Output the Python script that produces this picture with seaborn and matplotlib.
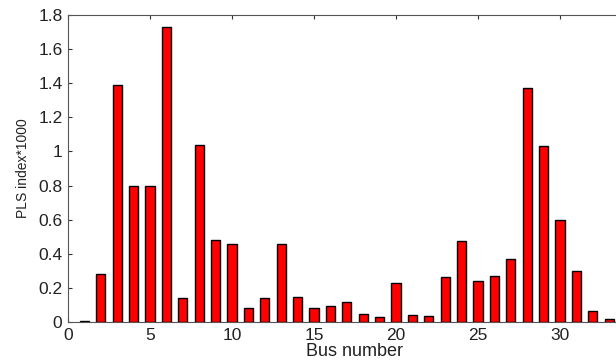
import matplotlib
matplotlib.use("Agg")
import matplotlib.pyplot as plt
import seaborn as sns
import pandas as pd

bus = list(range(1, 34))
pls = [0.003, 0.28, 1.39, 0.80, 0.80, 1.73, 0.14, 1.04, 0.48, 0.46,
       0.08, 0.14, 0.46, 0.145, 0.085, 0.095, 0.12, 0.045, 0.03, 0.23,
       0.04, 0.035, 0.265, 0.475, 0.24, 0.27, 0.37, 1.37, 1.03, 0.60,
       0.30, 0.065, 0.02]
xticks = [0, 5, 10, 15, 20, 25, 30]
yticks = [0, 0.2, 0.4, 0.6, 0.8, 1, 1.2, 1.4, 1.6, 1.8]
ytick_labels = ["0", "0.2", "0.4", "0.6", "0.8", "1", "1.2", "1.4", "1.6", "1.8"]

sns.set_style("white")
plt.rcParams['font.family'] = ['Liberation Sans', 'DejaVu Sans']

df = pd.DataFrame({"bus": bus, "pls": pls})
fig = plt.figure(figsize=(6.16, 3.62), dpi=100)
ax = fig.add_axes([68/616, 40/362, 35*16.4/616, 307/362])
sns.barplot(data=df, x="bus", y="pls", native_scale=True, width=0.55,
            color="#ff0000", saturation=1, edgecolor="black", linewidth=1, ax=ax)
ax.set_xlim(0, 35)
ax.set_ylim(0, 1.8)
ax.set_xticks(xticks)
ax.set_xticklabels([str(t) for t in xticks])
ax.set_yticks(yticks)
ax.set_yticklabels(ytick_labels)
ax.tick_params(direction="in", length=3, labelsize=12.5, top=True, right=True,
               bottom=True, left=True, colors="#333333", labelcolor="#222222",
               pad=4)
for s in ax.spines.values():
    s.set_color("#555555")
    s.set_linewidth(0.8)
ax.set_xlabel("Bus number", fontsize=13, labelpad=0, color="#222222")
ax.set_ylabel("PLS index*1000", fontsize=10, labelpad=6, color="#222222")
fig.savefig("out.png", dpi=100)
